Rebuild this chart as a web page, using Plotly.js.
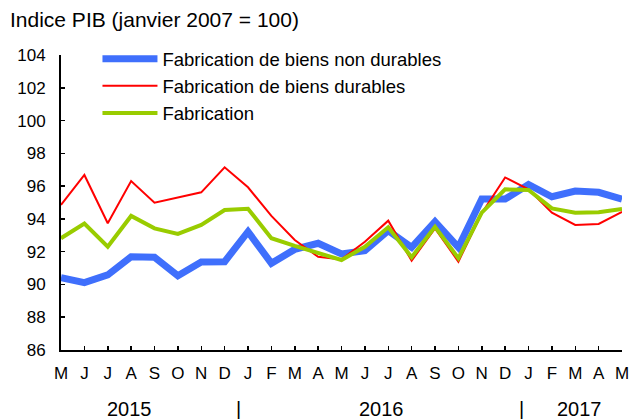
<!DOCTYPE html>
<html>
<head>
<meta charset="utf-8">
<script src="https://cdn.plot.ly/plotly-3.0.1.min.js"></script>
<style>html,body{margin:0;padding:0;background:#fff;}#chart{width:631px;height:419px;}</style>
</head>
<body>
<div id="chart"></div>
<script>
var months = ["M","J","J","A","S","O","N","D","J","F","M","A","M","J","J","A","S","O","N","D","J","F","M","A","M"];
var nonDurables = [90.41,90.11,90.58,91.69,91.66,90.53,91.37,91.39,93.22,91.29,92.14,92.51,91.86,92.06,93.28,92.27,93.83,92.27,95.21,95.21,96.10,95.35,95.70,95.62,95.21];
var durables    = [94.85,96.68,93.73,96.31,94.99,95.29,95.62,97.15,95.93,94.18,92.71,91.69,91.53,92.60,93.89,91.45,93.42,91.39,94.34,96.53,95.80,94.38,93.63,93.69,94.43];
var fabrication = [92.82,93.71,92.30,94.18,93.42,93.08,93.63,94.54,94.62,92.82,92.35,91.90,91.49,92.30,93.49,91.66,93.52,91.60,94.38,95.80,95.76,94.64,94.38,94.40,94.60];
var yearLabels = ["2015","|","2016","|","2017"];
var yearPos = [2.92,7.58,13.70,19.69,22.17];

var idx = months.map(function(_, i){ return i; });
var font = "Arial, 'Liberation Sans', sans-serif";

var traces = [
  {x: idx, y: nonDurables, name: "Fabrication de biens non durables", mode: "lines",
   line: {color: "#3F6FFC", width: 7}, legendgroup: "a"},
  {x: idx, y: durables, name: "Fabrication de biens durables", mode: "lines",
   line: {color: "#FF0000", width: 2}, legendgroup: "b"},
  {x: idx, y: fabrication, name: "Fabrication", mode: "lines",
   line: {color: "#99CC00", width: 4}, legendgroup: "c"}
];

var plotH = 419 - 55 - 69;
var annotations = yearLabels.map(function(t, i){
  return {text: t, x: yearPos[i], xref: "x", y: (419 - 409 - 69) / plotH, yref: "paper", showarrow: false,
          font: {size: 20, color: "#000", family: font}, xanchor: "center", yanchor: "middle"};
});

var layout = {
  width: 631, height: 419,
  margin: {l: 61, r: 9, t: 55, b: 69},
  paper_bgcolor: "#fff", plot_bgcolor: "#fff",
  font: {family: font, size: 16, color: "#000"},
  title: {text: "Indice PIB (janvier 2007 = 100)", xref: "container", yref: "container",
          x: 10/631, xanchor: "left", y: 1 - 20/419, yanchor: "middle",
          font: {size: 21, family: font, color: "#000"}},
  xaxis: {range: [0, 24], tickmode: "array", tickvals: idx, ticktext: months,
          showgrid: false, zeroline: false, showline: true, linecolor: "#000", linewidth: 2,
          ticks: "inside", ticklen: 4, tickwidth: 1.5, tickcolor: "#000",
          tickfont: {size: 17, family: font, color: "#000"}, ticklabelstandoff: 7, fixedrange: true},
  yaxis: {range: [86, 104], dtick: 2, tick0: 86,
          showgrid: false, zeroline: false, showline: true, linecolor: "#000", linewidth: 2,
          ticks: "inside", ticklen: 4, tickwidth: 1.5, tickcolor: "#000",
          tickfont: {size: 17, family: font, color: "#000"}, ticklabelstandoff: 10, fixedrange: true},
  showlegend: true,
  legend: {x: 0.065, y: 1.05, xanchor: "left", yanchor: "top", bgcolor: "rgba(0,0,0,0)",
           traceorder: "grouped", tracegroupgap: 0, itemwidth: 55,
           font: {size: 18.5, family: font, color: "#000"}},
  annotations: annotations
};

Plotly.newPlot("chart", traces, layout, {staticPlot: true, displayModeBar: false});
</script>
</body>
</html>
